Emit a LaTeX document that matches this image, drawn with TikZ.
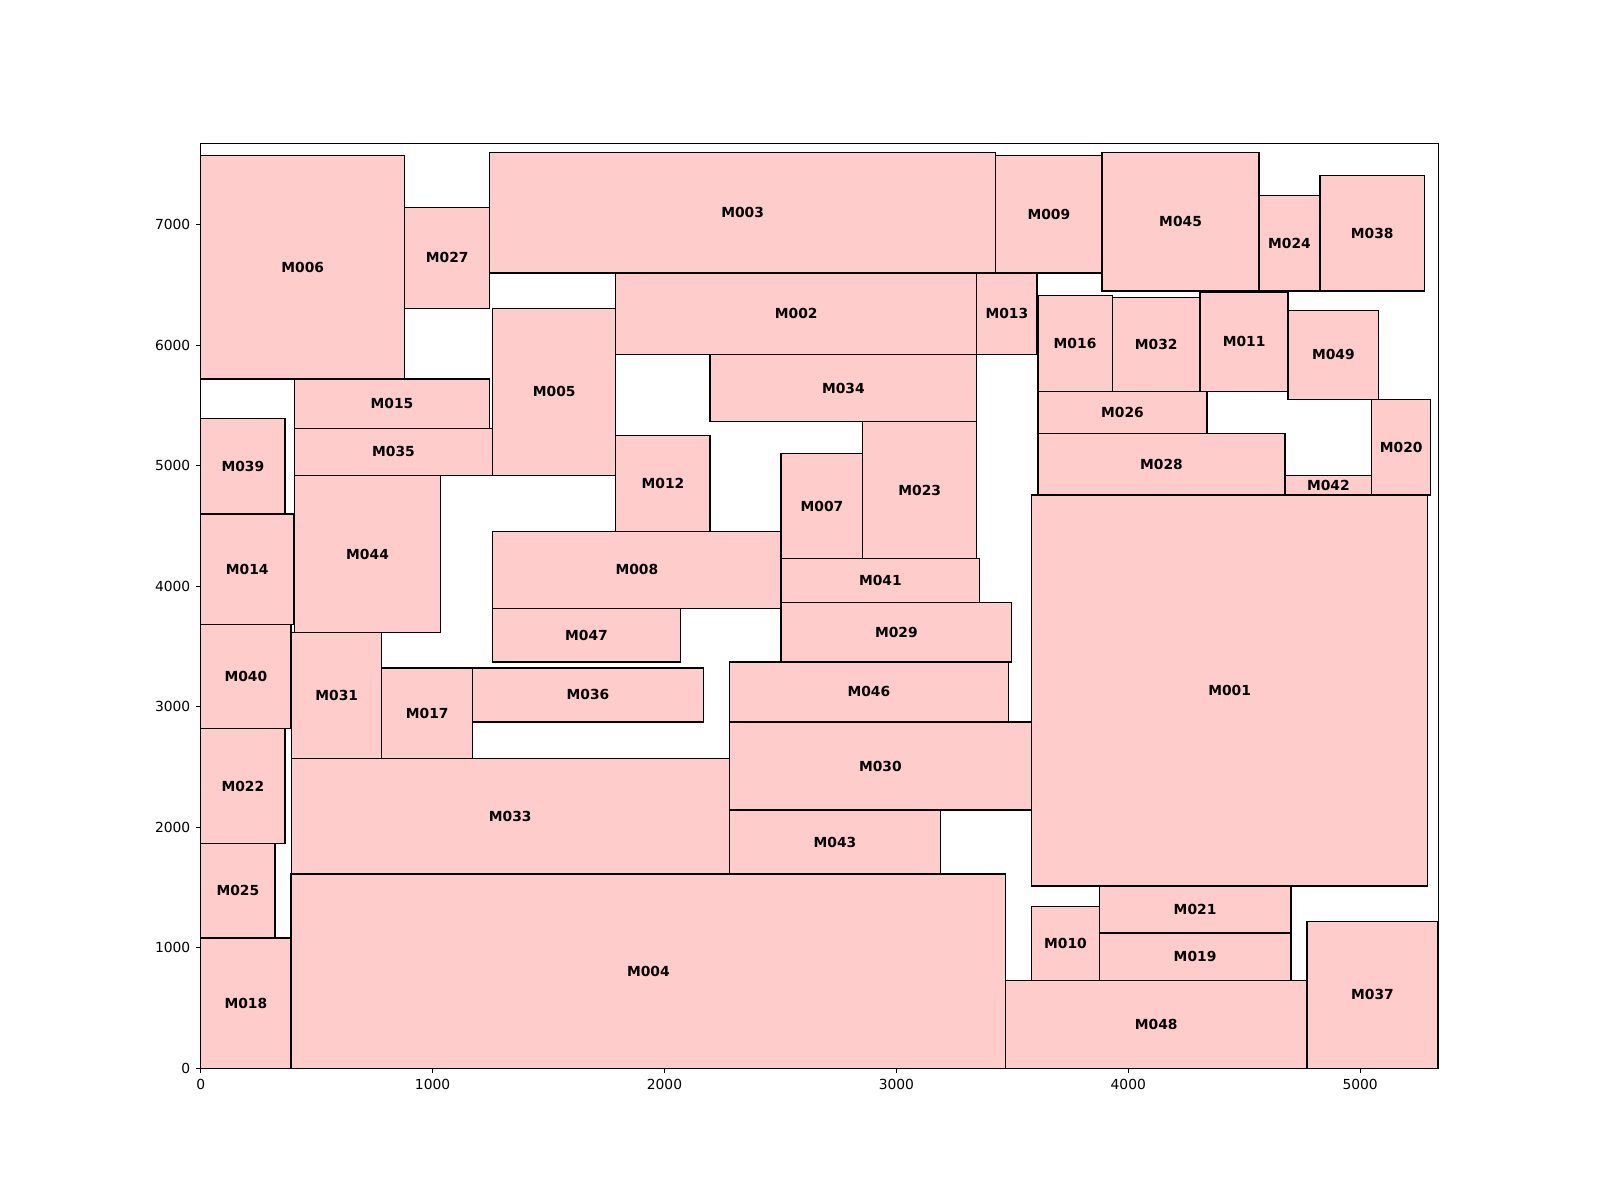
\documentclass[tikz,border=0pt]{standalone}
\usepackage{fontspec}
\setmainfont{DejaVu Sans}
\definecolor{blkfill}{RGB}{255,204,204}
\begin{document}
\begin{tikzpicture}[
  blk/.style={fill=blkfill, draw=black, line width=0.39pt},
  lbl/.style={font=\fontsize{3.94pt}{4.7pt}\selectfont\bfseries, inner sep=0pt},
  ticklbl/.style={font=\fontsize{3.94pt}{4.7pt}\selectfont, inner sep=0pt},
  axisline/.style={line width=0.315pt, draw=black},
]
\useasboundingbox (0,0) rectangle (16,12);
\begin{scope}[shift={(2.007,1.317)}, x=0.002324cm, y=0.0012037cm]
  % module outlines: name / x1 / y1 / x2 / y2
  \def\modules{
    M001/3583/1512/5291/4757, M002/1790/5923/3346/6599, M003/1246/6599/3428/7601,
    M004/390/0/3471/1612,     M005/1259/4921/1790/6305, M006/0/5721/880/7576,
    M007/2503/4230/2855/5103, M008/1259/3817/2503/4455, M009/3428/6599/3887/7576,
    M010/3583/731/3875/1343,  M011/4310/5616/4689/6441, M012/1790/4455/2197/5253,
    M013/3346/5923/3607/6599, M014/0/3683/401/4600,     M015/404/5311/1246/5721,
    M016/3610/5616/3931/6414, M017/781/2570/1173/3323,  M018/0/0/390/1082,
    M019/3875/731/4701/1122,  M020/5050/4757/5304/5552, M021/3875/1122/4701/1512,
    M022/0/1866/364/2819,     M023/2855/4230/3346/5367, M024/4564/6449/4826/7244,
    M025/0/1082/321/1866,     M026/3610/5270/4340/5616, M027/880/6305/1246/7145,
    M028/3610/4757/4676/5270, M029/2503/3373/3497/3863, M030/2279/2143/3583/2874,
    M031/392/2570/781/3614,   M032/3931/5616/4310/6394, M033/391/1612/2279/2570,
    M034/2197/5367/3346/5923, M035/404/4921/1259/5311,  M036/1173/2874/2167/3323,
    M037/4770/0/5336/1218,    M038/4826/6449/5278/7410, M039/0/4600/364/5392,
    M040/0/2819/390/3683,     M041/2503/3863/3359/4230, M042/4676/4757/5050/4918,
    M043/2279/1612/3191/2143, M044/404/3614/1035/4918,  M045/3887/6449/4564/7601,
    M046/2279/2874/3484/3373, M047/1259/3373/2068/3817, M048/3471/0/4770/731,
    M049/4689/5552/5080/6289}
  \foreach \n/\a/\b/\c/\d in \modules {
    \path[blk] (\a,\b) rectangle (\c,\d);
  }
  \foreach \n/\a/\b/\c/\d in \modules {
    \node[lbl] (\n) at ({(\a+\c)/2},{(\b+\d)/2}) {\n};
  }
  % axes frame
  \draw[axisline] (0,0) rectangle (5336,7676);
  % x ticks
  \foreach \t in {0,1000,...,5000} {
    \draw[axisline] (\t,0) -- ++(0,-0.0486cm);
    \node[ticklbl, anchor=north] (xt\t) at ([yshift=-0.0972cm]\t,0) {\t};
  }
  % y ticks
  \foreach \t in {0,1000,...,7000} {
    \draw[axisline] (0,\t) -- ++(-0.0486cm,0);
    \node[ticklbl, anchor=east] (yt\t) at ([xshift=-0.0972cm]0,\t) {\t};
  }
\end{scope}
\end{tikzpicture}
\end{document}
